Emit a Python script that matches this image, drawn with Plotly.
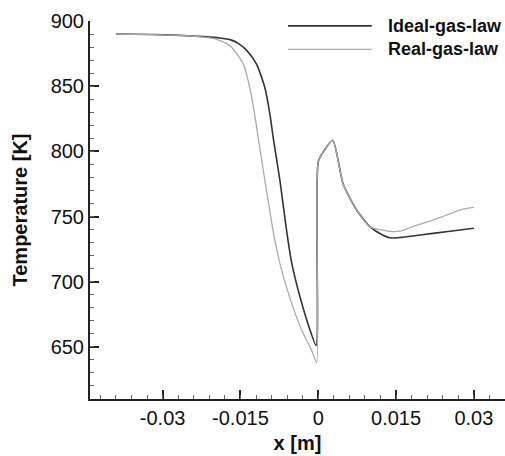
import plotly.graph_objects as go

# Temperature profiles along x for the two equations of state
x_ideal = [-0.039, -0.032, -0.0267, -0.022, -0.019, -0.017, -0.0155, -0.0138, -0.0119,
           -0.0103, -0.0093, -0.0087, -0.0074, -0.0061, -0.0051, -0.0035, -0.0020,
           -0.0004, 0.0, 0.0012, 0.0028, 0.0048, 0.0074, 0.0100, 0.0125, 0.0140,
           0.0160, 0.0200, 0.0250, 0.0300]
t_ideal = [890, 889.6, 889, 888, 887, 885.7, 883, 877.5, 867,
           849, 828, 811, 778, 739, 714, 688, 668,
           651, 792, 801, 808.5, 775, 755, 742, 735.6, 733.5,
           734, 736, 738.5, 741]

x_real = [-0.039, -0.032, -0.0267, -0.023, -0.020, -0.017, -0.0145, -0.0132, -0.0122,
          -0.0116, -0.0103, -0.0087, -0.0074, -0.0055, -0.0032, -0.0013, -0.0003,
          0.0, 0.0012, 0.0028, 0.0048, 0.0074, 0.0100, 0.0125, 0.0140, 0.0160,
          0.0183, 0.0220, 0.0247, 0.0279, 0.0300]
t_real = [890, 889.6, 889, 888, 886.5, 881, 867.5, 849, 827,
          811, 778, 739, 714, 688, 663, 647.5, 638,
          792, 801, 808.5, 775, 755, 742, 739.5, 738.5, 739,
          742.5, 747, 751, 755.6, 757]

series_names = ["Ideal-gas-law", "Real-gas-law"]
series_colors = ["#333333", "#aaaaaa"]

x_ticks = [-0.03, -0.015, 0, 0.015, 0.03]
x_ticklabels = ["-0.03", "-0.015", "0", "0.015", "0.03"]
y_ticks = [650, 700, 750, 800, 850, 900]

X_RANGE = [-0.044, 0.036]
Y_RANGE = [610, 900]

FONT = "Liberation Sans, Arial, sans-serif"
AXIS = "#222222"
TEXT = "#111111"

fig = go.Figure()
for xs, ys, name, color, w in [(x_ideal, t_ideal, series_names[0], series_colors[0], 1.6),
                               (x_real, t_real, series_names[1], series_colors[1], 1.3)]:
    fig.add_trace(go.Scatter(x=xs, y=ys, mode="lines", name=name,
                             line=dict(color=color, width=w, shape="spline", smoothing=0.6),
                             showlegend=False))

# empty trace carrying the overlay axes used for the minor tick marks
fig.add_trace(go.Scatter(x=[], y=[], xaxis="x2", yaxis="y2", showlegend=False, hoverinfo="skip"))

# legend drawn as line samples with bold labels in the upper right
for i, (name, color) in enumerate(zip(series_names, series_colors)):
    yy = 0.987 - i * 0.062
    fig.add_shape(type="line", xref="paper", yref="paper", x0=0.477, x1=0.679, y0=yy, y1=yy,
                  line=dict(color=color, width=1.6 if i == 0 else 1.3))
    fig.add_annotation(xref="paper", yref="paper", x=0.713, y=yy, xanchor="left", yanchor="middle",
                       text=f"<b>{name}</b>", showarrow=False,
                       font=dict(family=FONT, size=18, color=TEXT))

fig.update_layout(
    xaxis=dict(range=X_RANGE, tickvals=x_ticks, ticktext=x_ticklabels,
               ticks="inside", ticklen=9, tickwidth=1.5, tickcolor=AXIS,
               showline=True, linewidth=2, linecolor=AXIS, showgrid=False, zeroline=False,
               tickfont=dict(family=FONT, size=20, color=TEXT),
               title=dict(text="<b>x [m]</b>", font=dict(family=FONT, size=20, color=TEXT),
                          standoff=8)),
    yaxis=dict(range=Y_RANGE, tickvals=y_ticks,
               ticks="inside", ticklen=9, tickwidth=1.5, tickcolor=AXIS,
               showline=True, linewidth=2, linecolor=AXIS, showgrid=False, zeroline=False,
               tickfont=dict(family=FONT, size=20, color=TEXT),
               title=dict(text="<b>Temperature [K]</b>", font=dict(family=FONT, size=20, color=TEXT),
                          standoff=18)),
    xaxis2=dict(range=X_RANGE, overlaying="x", anchor="y", side="bottom",
                tickmode="linear", tick0=-0.03, dtick=0.003, ticks="inside", ticklen=4,
                tickwidth=1, tickcolor="#666666", showticklabels=False,
                showline=False, showgrid=False, zeroline=False),
    yaxis2=dict(range=Y_RANGE, overlaying="y", anchor="x", side="left",
                tickmode="linear", tick0=600, dtick=10, ticks="inside", ticklen=4,
                tickwidth=1, tickcolor="#666666", showticklabels=False,
                showline=False, showgrid=False, zeroline=False),
    width=505, height=456, margin=dict(l=90, r=0, t=21, b=57),
    plot_bgcolor="white", paper_bgcolor="white",
)

fig.write_html("out.html")
